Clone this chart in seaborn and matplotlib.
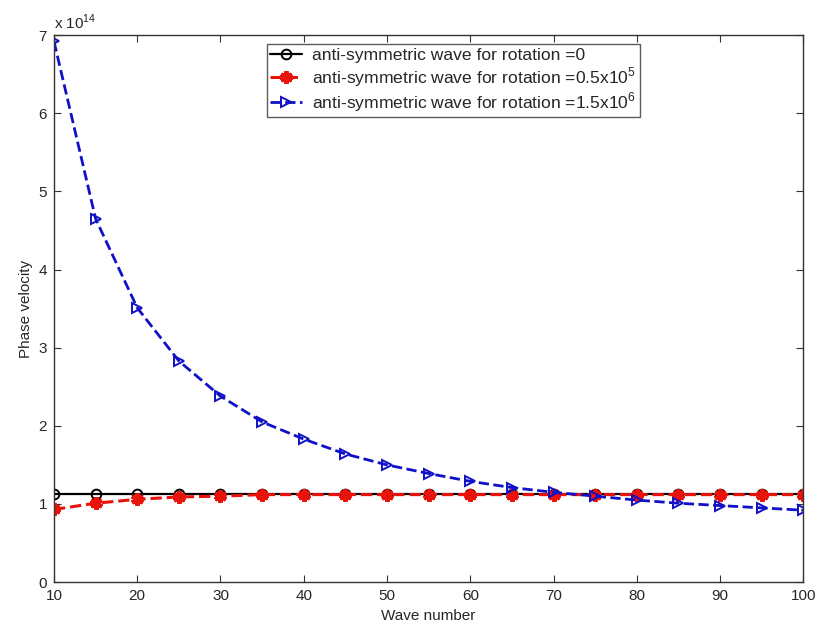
import numpy as np
import pandas as pd
import matplotlib
matplotlib.use("Agg")
import matplotlib.pyplot as plt
import seaborn as sns

wave_number = [10, 15, 20, 25, 30, 35, 40, 45, 50, 55, 60, 65, 70, 75, 80, 85, 90, 95, 100]
# phase velocity in units of 1e14
rot0 = [1.13] * 19
rot_05e5 = [0.93, 1.01, 1.06, 1.09, 1.10, 1.12, 1.12, 1.12, 1.12, 1.12, 1.12, 1.12, 1.12, 1.12, 1.12, 1.12, 1.12, 1.12, 1.12]
rot_15e6 = [6.92, 4.65, 3.51, 2.83, 2.38, 2.05, 1.83, 1.64, 1.50, 1.39, 1.29, 1.21, 1.15, 1.10, 1.05, 1.01, 0.98, 0.95, 0.92]

labels = ["anti-symmetric wave for rotation =0",
          "anti-symmetric wave for rotation =0.5x10$^{5}$",
          "anti-symmetric wave for rotation =1.5x10$^{6}$"]

sns.set_style("white")
plt.rcParams['font.family'] = ['Liberation Sans', 'DejaVu Sans']
plt.rcParams['mathtext.fontset'] = 'custom'
plt.rcParams['mathtext.rm'] = 'Liberation Sans'

fig = plt.figure(figsize=(8.18, 6.39), dpi=100)
ax = fig.add_axes([0.066, 0.089, 0.916, 0.856])

df = pd.DataFrame({"x": wave_number, "a": rot0, "b": rot_05e5, "c": rot_15e6})

sns.lineplot(data=df, x="x", y="a", ax=ax, color="black", linestyle="-", linewidth=1.6,
             marker="o", markersize=7, markerfacecolor="none", markeredgecolor="black",
             markeredgewidth=1.4, label=labels[0])
sns.lineplot(data=df, x="x", y="b", ax=ax, color="#e8140c", linestyle="--", linewidth=2.2,
             marker=(6, 2, 0), markersize=9, markerfacecolor="#e8140c", markeredgecolor="#e8140c",
             markeredgewidth=3.0, label=labels[1], dashes=(3, 2))
sns.lineplot(data=df, x="x", y="c", ax=ax, color="#1010c8", linestyle="--", linewidth=2.0,
             marker=">", markersize=7, markerfacecolor="none", markeredgecolor="#1010c8",
             markeredgewidth=1.4, label=labels[2], dashes=(3, 2))

ax.set_xlim(10, 100)
ax.set_ylim(0, 7)
ax.set_xticks(range(10, 101, 10))
ax.set_yticks(range(0, 8))
ax.tick_params(direction="in", length=5, labelsize=11, top=True, right=True,
               bottom=True, left=True, color="#333333", pad=5)
for s in ax.spines.values():
    s.set_color("#333333")
    s.set_linewidth(1.0)
ax.set_xlabel("Wave number", fontsize=11)
ax.set_ylabel("Phase velocity", fontsize=11)
ax.text(0.0, 1.005, "x 10$^{14}$", transform=ax.transAxes, fontsize=11, ha="left", va="bottom")

leg = ax.legend(loc="upper left", bbox_to_anchor=(0.284, 0.983), fontsize=12.6,
                frameon=True, fancybox=False, edgecolor="#333333", handlelength=1.8,
                borderpad=0.2, labelspacing=0.1, handletextpad=0.6, borderaxespad=0)
leg.get_frame().set_linewidth(1.0)

fig.savefig("out.png", dpi=100)
